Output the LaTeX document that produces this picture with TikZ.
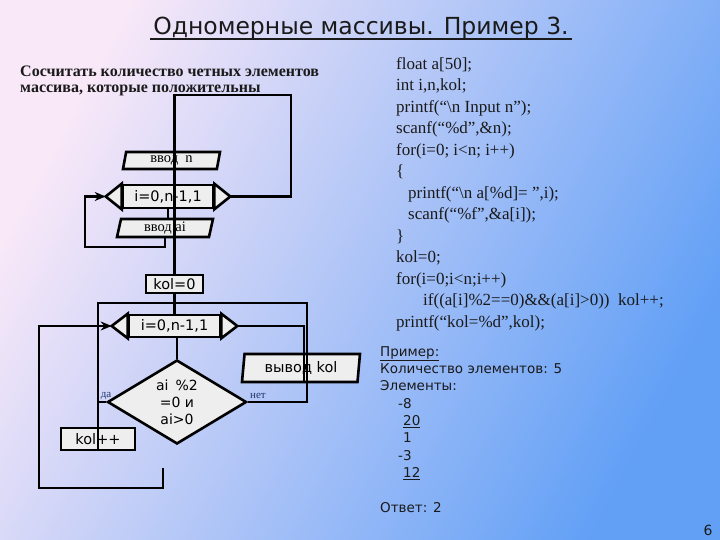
\documentclass[tikz,border=0pt]{standalone}
\usepackage{fontspec}
\setmainfont{Liberation Serif}
\setsansfont{DejaVu Sans}
\usetikzlibrary{shapes.geometric,arrows.meta,calc,positioning}
\definecolor{bgpink}{HTML}{F8E8F8}
\definecolor{bgmid}{HTML}{A0C6F4}
\definecolor{bgblue}{HTML}{62A0F6}
\definecolor{boxgray}{HTML}{EEEEEE}
\definecolor{lblblue}{HTML}{1F3566}
\definecolor{ink}{HTML}{1A1A1A}

\begin{document}
\begin{tikzpicture}[x=1pt, y=-1pt, >={Stealth[length=11pt,width=9pt]},
  flow/.style={line width=2.6pt},
  tipend/.style={line width=2.6pt, fill=boxgray},
  io/.style={trapezium, trapezium stretches body, draw, line width=2.6pt, fill=boxgray,
    inner sep=0pt, trapezium left angle=#1, trapezium right angle=180-#1},
  proc/.style={rectangle, draw, line width=2.6pt, fill=boxgray, inner sep=0pt,
    font=\sffamily\fontsize{14.5}{16}\selectfont},
  cond/.style={diamond, draw, line width=2.6pt, fill=boxgray, inner sep=0pt, aspect=1.65,
    align=center, font=\sffamily\fontsize{14}{17}\selectfont},
  rmtext/.style={font=\fontsize{14.5}{16}\selectfont},
  lbl/.style={font=\fontsize{11}{13}\selectfont, text=lblblue, inner sep=0pt}]
  % background of the slide
  \shade[left color=bgpink, middle color=bgmid, right color=bgblue, shading angle=62]
    (0,0) rectangle (720,540);
  \useasboundingbox (0,0) rectangle (720,540);

  % headings
  \node[font=\sffamily\fontsize{23.5}{28}\selectfont, text=ink, anchor=base] (ttl) at (361,35)
    {Одномерные массивы. Пример 3.};
  \draw[line width=1.6pt, ink] ([yshift=-4pt]ttl.base west) -- ([yshift=-4pt]ttl.base east);
  \node[font=\bfseries\fontsize{16}{16.5}\selectfont, text=ink, align=left, anchor=base west,
    inner sep=0pt] (task) at (20,93)
    {Сосчитать количество четных элементов\\массива, которые положительны};

  % first loop: input
  \node[io=72, minimum width=97, minimum height=17, rmtext] (vn) at (171.5,160.5) {ввод\enspace n};
  \node[proc, minimum width=90, minimum height=23] (h1) at (168,196.5) {i=0,n-1,1};
  \node[io=72, minimum width=96, minimum height=18, rmtext] (va) at (165,228) {ввод ai};

  % second loop: count
  \node[proc, minimum width=57, minimum height=18] (k0) at (174.5,284) {kol=0};
  \node[proc, minimum width=91, minimum height=22] (h2) at (174.5,326) {i=0,n-1,1};
  \node[cond, minimum width=139, minimum height=84] (d) at (177,402) {ai\enspace\%2\\=0 и\\ai>0};
  \node[io=79, minimum width=118, minimum height=28,
    font=\sffamily\fontsize{14.5}{16}\selectfont] (vk) at (301,368) {вывод kol};
  \node[proc, minimum width=74, minimum height=22] (kp) at (98,439) {kol++};
  \node[lbl] (yes) at (106,396) {да};
  \node[lbl] (no) at (258,396) {нет};

  % pointed ends of the loop boxes
  \foreach \h in {h1,h2}{
    \coordinate (\h-l) at ($(\h.west)+(-16,0)$);
    \coordinate (\h-r) at ($(\h.east)+(16,0)$);
    \filldraw[tipend] (\h.north west) -- (\h-l) -- (\h.south west) -- cycle;
    \filldraw[tipend] (\h.north east) -- (\h-r) -- (\h.south east) -- cycle;
  }

  % connectors
  \draw[flow] (vn.south -| k0.north) -- (h1.north -| k0.north);
  \draw[flow] (h1.south) -- (h1.south |- va.north);
  \draw[flow,->] (va.south) |- (85,247) |- (h1-l);
  \draw[flow] (h1-r) -| (291,95) -| (k0.north);
  \draw[flow] (k0.south) -- (k0.south |- h2.north);
  \draw[flow] (d.north |- h2.south) -- (d.north);
  \draw[flow] (h2-r) -| ($(vk.south)+(3,0)$);
  \draw[flow] (d.east) -- (307,402) |- (98,303) -- (kp.south);
  \draw[flow] (d.west) -- (d.west -| kp.south);
  \coordinate (back) at (163,468);
  \draw[flow,->] (back) |- (39,488) |- (h2-l);

  % program text
  \node[font=\fontsize{17}{21.5}\selectfont, text=ink, align=left, anchor=base west,
    inner sep=0pt] (code) at (396,327)
    {float a[50];\\
     int i,n,kol;\\
     printf(“\textbackslash n Input n”);\\
     scanf(“\%d”,\&n);\\
     for(i=0; i<n; i++)\\
     \{\\
     \hspace*{12pt}printf(“\textbackslash n a[\%d]= ”,i);\\
     \hspace*{12pt}scanf(“\%f”,\&a[i]);\\
     \}\\
     kol=0;\\
     for(i=0;i<n;i++)\\
     \hspace*{27pt}if((a[i]\%2==0)\&\&(a[i]>0))\enspace kol++;\\
     printf(“kol=\%d”,kol);};

  % sample run
  \node[font=\sffamily\fontsize{13.5}{17.3}\selectfont, text=ink, align=left, anchor=base west,
    inner sep=0pt] (run) at (380,512)
    {\underline{Пример:}\\
     Количество элементов: 5\\
     Элементы:\\
     \hspace*{18pt}-8\\
     \hspace*{23pt}\underline{20}\\
     \hspace*{23pt}1\\
     \hspace*{18pt}-3\\
     \hspace*{23pt}\underline{12}\\
     \mbox{}\\
     Ответ: 2};
  \node[font=\sffamily\fontsize{14}{16}\selectfont, text=ink] (pg) at (708,530) {6};
\end{tikzpicture}
\end{document}
